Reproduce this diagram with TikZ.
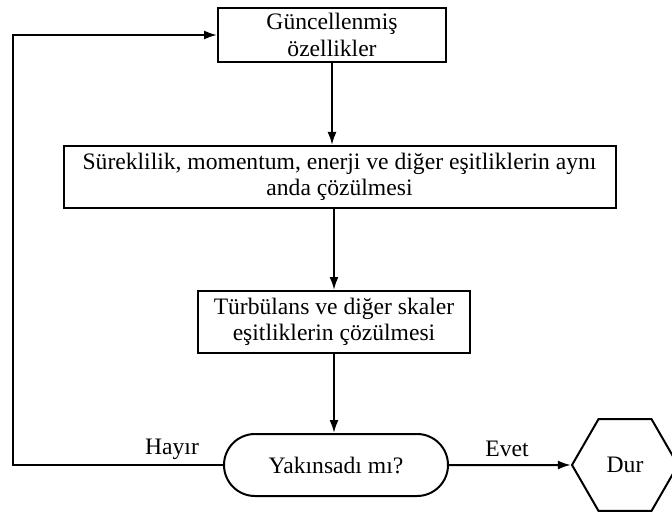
\documentclass[tikz,border=0pt]{standalone}
\usepackage{fontspec}
\setmainfont{Liberation Serif}
\usetikzlibrary{arrows.meta,shapes.geometric}
\begin{document}
\begin{tikzpicture}[x=0.5pt, y=-0.5pt, >={Latex[length=6.5pt,width=4.5pt]},
    every node/.style={font=\fontsize{11.8}{13.2}\selectfont},
    kutu/.style={draw, line width=1pt, align=center, inner sep=0pt},
    hat/.style={line width=1pt}]
  \useasboundingbox (0,0) rectangle (672,513);
  \node[kutu, minimum width=114pt, minimum height=27pt] (guncel) at (332,35) {Güncellenmiş\\özellikler};
  \node[kutu, minimum width=276pt, minimum height=31pt] (surek) at (339.5,177) {Süreklilik, momentum, enerji ve diğer eşitliklerin aynı\\anda çözülmesi};
  \node[kutu, minimum width=136pt, minimum height=31pt] (turb) at (334,322) {Türbülans ve diğer skaler\\eşitliklerin çözülmesi};
  \node[kutu, rounded corners=15.5pt, minimum width=112pt, minimum height=31pt] (karar) at (336,465) {Yakınsadı mı?};
  \node[kutu, regular polygon, regular polygon sides=6, minimum size=53pt] (dur) at (625,465) {Dur};
  \node (hayir) at (172,449) {Hayır};
  \node (evet) at (507,449) {Evet};
  \coordinate (sol) at (13,35);
  % akis
  \draw[hat, ->] (guncel.south) -- (guncel.south |- surek.north);
  \draw[hat, ->] (turb.north |- surek.south) -- (turb.north);
  \draw[hat, ->] (turb.south) -- (turb.south |- karar.north);
  \draw[hat, ->] (karar.east) -- (dur.west);
  % geri donus
  \draw[hat, ->] (karar.west) -| (sol) -- (guncel.west);
\end{tikzpicture}
\end{document}
